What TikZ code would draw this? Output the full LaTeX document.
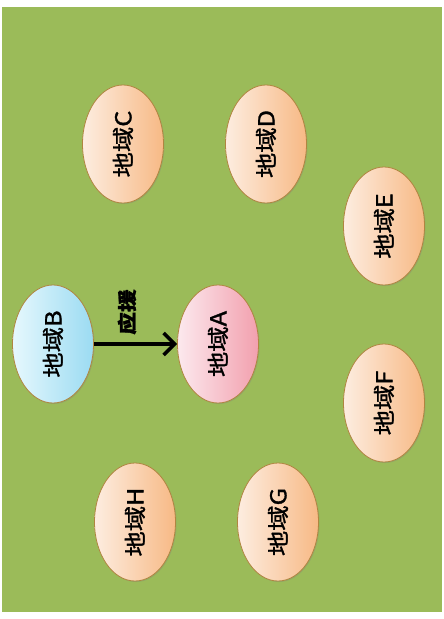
\documentclass[tikz,border=0pt]{standalone}
\usepackage{fontspec}
\usepackage{graphicx}
\newfontfamily\cjk{Noto Sans CJK SC}[FakeBold=1.3]
\usetikzlibrary{shapes.geometric,shadows,arrows.meta}
\definecolor{bggreen}{HTML}{9BBB59}
\definecolor{peachL}{HTML}{FDEDE0}
\definecolor{peachD}{HTML}{F7B985}
\definecolor{blueL}{HTML}{E6F8FD}
\definecolor{blueD}{HTML}{9BDBF2}
\definecolor{pinkL}{HTML}{FCE9EE}
\definecolor{pinkD}{HTML}{F2A0AE}
\definecolor{rim}{HTML}{B08540}

\begin{document}
\begin{tikzpicture}[x=1pt,y=-1pt,
    region/.style={ellipse,rotate=90,minimum width=118pt,minimum height=81pt,inner sep=0pt,
        draw=rim,line width=0.8pt,drop shadow={opacity=0.3,shadow xshift=1pt,shadow yshift=-1pt},
        font=\cjk\fontsize{22}{22}\selectfont},
    other/.style={region,left color=peachL,right color=peachD},
    helper/.style={line width=3.6pt,-{Straight Barb[length=11pt,width=22pt]}}]
                \useasboundingbox (0,0) rectangle (444,619);
                \fill[bggreen] (2,7) rectangle (442,612);

                \node[region,left color=pinkL,right color=pinkD] (a) at (218,344) {\scalebox{1.15}[1]{地域A}};
                \node[region,left color=blueL,right color=blueD] (b) at (53,344) {\scalebox{1.15}[1]{地域B}};
                \node[other] (c) at (123,144) {\scalebox{1.15}[1]{地域C}};
                \node[other] (d) at (266,144) {\scalebox{1.15}[1]{地域D}};
                \node[other] (e) at (384,226) {\scalebox{1.15}[1]{地域E}};
                \node[other] (f) at (384,403) {\scalebox{1.15}[1]{地域F}};
                \node[other] (g) at (278,522) {\scalebox{1.15}[1]{地域G}};
                \node[other] (h) at (135,522) {\scalebox{1.15}[1]{地域H}};

                \node[rotate=90,font=\cjk\bfseries\fontsize{19}{19}\selectfont] (help) at (127,312) {\scalebox{1.2}[1]{应援}};

                \draw[helper] (b) -- (a);
            \end{tikzpicture}
\end{document}
